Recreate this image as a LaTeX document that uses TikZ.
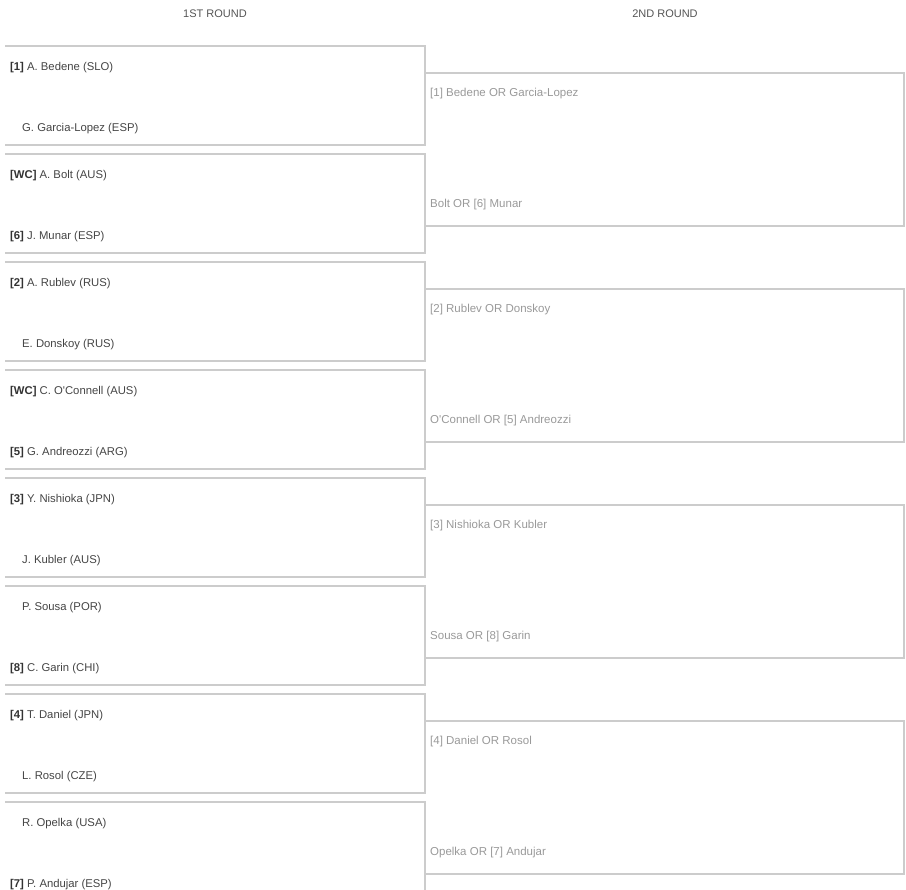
\documentclass[tikz,border=0pt]{standalone}
\usepackage{fontspec}
\setmainfont{Liberation Sans}
\usetikzlibrary{positioning}
\definecolor{linegray}{HTML}{CCCCCC}
\definecolor{namegray}{HTML}{444444}
\definecolor{seedgray}{HTML}{333333}
\definecolor{tbdgray}{HTML}{999999}
\definecolor{headgray}{HTML}{555555}
\newcommand{\sd}[1]{{\color{seedgray}\textbf{[#1]}} }
\tikzset{
    player/.style={
           anchor=west,
           inner sep=0pt,
           yshift=-1.5pt,
           text=namegray,
           font=\fontsize{11.3}{13}\selectfont,
           },
    tbd/.style={
           anchor=west,
           inner sep=0pt,
           yshift=-1.5pt,
           text=tbdgray,
           font=\fontsize{11.5}{14}\selectfont,
           },
    roundhead/.style={
           inner sep=0pt,
           text=headgray,
           font=\fontsize{11}{13}\selectfont,
           },
    bracket/.style={
           draw=linegray,
           line width=2pt,
           },
}

\begin{document}
\begin{tikzpicture}[x=1pt,y=-1pt]
 \useasboundingbox[clip] (0,0) rectangle (906,890);

 % ROUND TITLES
 \node[roundhead] (R1HEAD) at (215,14) {1ST ROUND};
 \node[roundhead] (R2HEAD) at (665,14) {2ND ROUND};

 % 1ST ROUND -- corners of each match
 \coordinate (M1TL) at (5,46);   \coordinate (M1BR) at (425,145);
 \coordinate (M2TL) at (5,154);  \coordinate (M2BR) at (425,253);
 \coordinate (M3TL) at (5,262);  \coordinate (M3BR) at (425,361);
 \coordinate (M4TL) at (5,370);  \coordinate (M4BR) at (425,469);
 \coordinate (M5TL) at (5,478);  \coordinate (M5BR) at (425,577);
 \coordinate (M6TL) at (5,586);  \coordinate (M6BR) at (425,685);
 \coordinate (M7TL) at (5,694);  \coordinate (M7BR) at (425,793);
 \coordinate (M8TL) at (5,802);  \coordinate (M8BR) at (425,901);

 % players
 \node[player] (P1A) at (10,66)  {\sd{1}A. Bedene (SLO)};
 \node[player] (P1B) at (22,127) {G. Garcia-Lopez (ESP)};
 \node[player] (P2A) at (10,174) {\sd{WC}A. Bolt (AUS)};
 \node[player] (P2B) at (10,235) {\sd{6}J. Munar (ESP)};
 \node[player] (P3A) at (10,282) {\sd{2}A. Rublev (RUS)};
 \node[player] (P3B) at (22,343) {E. Donskoy (RUS)};
 \node[player] (P4A) at (10,390) {\sd{WC}C. O\textquotesingle Connell (AUS)};
 \node[player] (P4B) at (10,451) {\sd{5}G. Andreozzi (ARG)};
 \node[player] (P5A) at (10,498) {\sd{3}Y. Nishioka (JPN)};
 \node[player] (P5B) at (22,559) {J. Kubler (AUS)};
 \node[player] (P6A) at (22,606) {P. Sousa (POR)};
 \node[player] (P6B) at (10,667) {\sd{8}C. Garin (CHI)};
 \node[player] (P7A) at (10,714) {\sd{4}T. Daniel (JPN)};
 \node[player] (P7B) at (22,775) {L. Rosol (CZE)};
 \node[player] (P8A) at (22,822) {R. Opelka (USA)};
 \node[player] (P8B) at (10,883) {\sd{7}P. Andujar (ESP)};

 % 2ND ROUND -- corners of each match
 \coordinate (N1TL) at (425,73);  \coordinate (N1BR) at (904,226);
 \coordinate (N2TL) at (425,289); \coordinate (N2BR) at (904,442);
 \coordinate (N3TL) at (425,505); \coordinate (N3BR) at (904,658);
 \coordinate (N4TL) at (425,721); \coordinate (N4BR) at (904,874);

 \node[tbd] (Q1A) at (430,92)  {[1] Bedene OR Garcia-Lopez};
 \node[tbd] (Q1B) at (430,203) {Bolt OR [6] Munar};
 \node[tbd] (Q2A) at (430,308) {[2] Rublev OR Donskoy};
 \node[tbd] (Q2B) at (430,419) {O\textquotesingle Connell OR [5] Andreozzi};
 \node[tbd] (Q3A) at (430,524) {[3] Nishioka OR Kubler};
 \node[tbd] (Q3B) at (430,635) {Sousa OR [8] Garin};
 \node[tbd] (Q4A) at (430,740) {[4] Daniel OR Rosol};
 \node[tbd] (Q4B) at (430,851) {Opelka OR [7] Andujar};

 % draw the brackets (open on the left)
 \draw[bracket] (M1TL) -| (M1BR) -- (M1BR -| M1TL);
 \draw[bracket] (M2TL) -| (M2BR) -- (M2BR -| M2TL);
 \draw[bracket] (M3TL) -| (M3BR) -- (M3BR -| M3TL);
 \draw[bracket] (M4TL) -| (M4BR) -- (M4BR -| M4TL);
 \draw[bracket] (M5TL) -| (M5BR) -- (M5BR -| M5TL);
 \draw[bracket] (M6TL) -| (M6BR) -- (M6BR -| M6TL);
 \draw[bracket] (M7TL) -| (M7BR) -- (M7BR -| M7TL);
 \draw[bracket] (M8TL) -| (M8BR) -- (M8BR -| M8TL);

 \draw[bracket] (N1TL) -| (N1BR) -- (N1BR -| N1TL);
 \draw[bracket] (N2TL) -| (N2BR) -- (N2BR -| N2TL);
 \draw[bracket] (N3TL) -| (N3BR) -- (N3BR -| N3TL);
 \draw[bracket] (N4TL) -| (N4BR) -- (N4BR -| N4TL);

\end{tikzpicture}
\end{document}
